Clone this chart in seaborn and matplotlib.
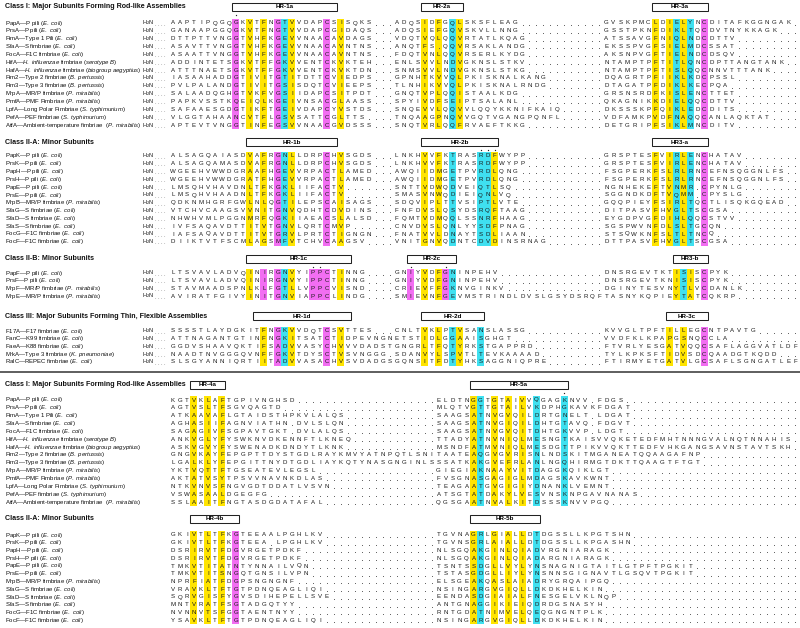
import numpy as np
import matplotlib
matplotlib.use("Agg")
import matplotlib.pyplot as plt
from matplotlib.colors import ListedColormap
from matplotlib.patches import Rectangle
import seaborn as sns

plt.rcParams['font.family'] = ['Liberation Sans', 'DejaVu Sans']
plt.rcParams['mathtext.fontset'] = 'custom'
plt.rcParams['mathtext.rm'] = 'Liberation Sans'
plt.rcParams['mathtext.it'] = 'Liberation Sans:italic'
plt.rcParams['mathtext.bf'] = 'Liberation Sans:bold'

# ---------------- data ----------------
class1_names = [
    "PapA—P pili (_E. coli_)", "PrsA—P pili (_E. coli_)", "FimA—Type 1 Pili (_E. coli_)",
    "SfaA—S fimbriae (_E. coli_)", "FocA—F1C fimbriae (_E. coli_)",
    "HifA—_H. influenzae_ fimbriae (_serotype B_)",
    "HafA—_H. influenzae_ fimbriae (_biogroup aegyptius_)",
    "Fim2—Type 2 fimbriae (_B. pertussis_)", "Fim3—Type 3 fimbriae (_B. pertussis_)",
    "MrpA—MR/P fimbriae (_P. mirabilis_)", "PmfA—PMF Fimbriae (_P. mirabilis_)",
    "LpfA—Long Polar Fimbriae (_S. typhimurium_)", "PefA—PEF fimbriae (_S. typhimurium_)",
    "AtfA—Ambient-temperature fimbriae  (_P. mirabilis_)",
]
class2a_names = [
    "PapK—P pili (_E. coli_)", "PrsK—P pili (_E. coli_)", "PapH—P pili (_E. coli_)",
    "PrsH—P pili (_E. coli_)", "PapE—P pili (_E. coli_)", "PrsE—P pili (_E. coli_)",
    "MrpB—MR/P fimbriae (_P. mirabilis_)", "SfaG—S fimbriae (_E. coli_)",
    "SfaD—S fimbriae (_E. coli_)", "SfaS—S fimbriae (_E. coli_)",
    "FocG—F1C fimbriae (_E. coli_)", "FocF—F1C fimbriae (_E. coli_)",
]
class2b_names = [
    "PapF—P pili (_E. coli_)", "PrsF—P pili (_E. coli_)",
    "MrpF—MR/P fimbriae (_P. mirabilis_)", "MrpE—MR/P fimbriae (_P. mirabilis_)",
]
class3_names = [
    "F17A—F17 fimbriae (_E. coli_)", "FanC—K99 fimbriae (_E. coli_)",
    "FaeA—K88 fimbriae (_E. coli_)", "MrkA—Type 3 fimbriae (_K. pneumoniae_)",
    "RalC—REPEC fimbriae (_E. coli_)",
]

# Class I, HR-1a / HR-2a / HR-3a
c1_hr1 = ["AAPTIPQGQGKVTFNGTVVDAPCSISQKS", "GANAAPGGQGKVTFNGTVVDAPCGIDAQS",
          "DTTPTTVNGGTVHFKGEVVNAACAVDAGS", "ASAVTTVNGGTVHFKGEVVNAACAVNTNS",
          "ASAATTVNGGTVHFKGEVVNAACAVNTNS", "ADDINTETSGKVTFFGKVVENTCKVKTEH",
          "ATTTNAETSGKVTFFGKVVENTCKVKTDN", "IASAAHADDGTIVITGTITDTTCVIEDPS",
          "PVLPALANDGTIVITGSISDQTCVIEEPS", "SALAADQGHGTVKFVGSIIDAPCSITPDT",
          "PAPKVSSTKQEIQLKGEIVNSACGLAASS", "SAFAAESGDGTIKFTGEIVDAPCYVSTDS",
          "VLGGTAHAANCVTFLGSVSATTCGLTTS", "APTEVTVNGGTINFEGSVVNAACGVDSSS"]
c1_hr2 = ["ADQSIDFGQLSKSFLEAG", "ADQSIEFGQVSKVLLNNG", "VDQTVQLQQVRTATLKQAG",
          "ANQTFS.QQVRSAKLANDG", "FDQTVNLQQVRSERLKYDG", "ENLSVVLNDVGKNSLSTKV",
          "SNMSVVLNDVGKNSLSTKG", "GPNHTKVVQLPKISKNALKANG", "TLNHIKVVQLPKISKNALRNDG",
          "GNQTVPLQQISTAALKDG", "SPYIVDFSEIPTSALANL", "SNQEVVLQQVVLQQYKKNIFKAIQ",
          "TNQAAGPNQVVGQTVGANGPQNFL", "SNQTVRLQQFRVAEFTKKG"]
c1_hr3 = ["GVSKPMCLDIELYNCDITAFKGGNGAK", "GSSTPKNFDIKLTQCDVTNYKKAGK",
          "ATSSAVGFNIQLNDCDTTV", "EKSSPVGFSIELMDCSSAT", "AKSNPVGFTIELNDCDSQV",
          "NTAMPTPFTITLQNCDPTTANGTANK", "NTAMPTPFTISLQQCNNVTTTANK",
          "DQAGRTPFIIKLKDCPSSL", "DTAGATPFDIKLKECPQA", "GRSNSRDFKISLENCTTET",
          "QKAGNIKKDIELQQCDTTV", "DKSSSKPFQIKLEDCDITS",
          "VDFAMKPVDFNAQQCANLAQKTAT", "DETGRIPFSIKLMNCDITV"]

# Class II-A, HR-1b / HR-2b / HR3-a
c2a_hr1 = ["ALSAGQAIASDVAFRGNLLDRPCHVSGDS", "ALSAGQAMASDVAFRGNLLDRPCHVSGDS",
           "WGEEHVWWDGRAAFHGEVVRPACTLAMED", "WGEEHVWWDGRATFHGEVVRPACTLAMED",
           "LMSQHVHAVDNLTFKGKLIIFACTV", "LMSQHVHAADNLTFKGKLIIFACTV",
           "QDKNMHGRFGWLNLQGTILEPSCAISAGS", "VTCHVCAAGSVVNITGNVQDHTCDVDINS",
           "NHWHVMLPGGNMRFQGKIIAEACSLALSD", "IVFSAQAVDTTITVTGNVLQRTCMVP",
           "IAFSAQAVDTTITVTGRVLPRTCTIGNGN", "DIIKTVTFSCMLAGSMFVTCHVCAAGSV"]
c2a_hr2 = ["LNKHVVFKTRASRDFWYPP", "LNKHVVFKTRASRDFWYPP", "AWQIIDMGETPVRDLQNG",
           "AWQIIDMGETPVRDLQNG", "SNTTVDWQDVEIQTLSQ", "SMASVNWQDIEIQNLVQ",
           "SDQVIPLTTVSIPTLVTE", "FNFDVSLQSYDSRQFTAAG", "FQMTVDMQQLSSNRFHAAG",
           "CNVDVSLQNLYYSDFPNAG", "FNATVVLDNAYTSDLIAAN", "VNITGNVQDNTCDVDINSRNAG"]
c2a_hr3 = ["GRSPTESFVIRLENCHATAV", "GRSPTESFVIRLENCHATAV",
           "FSGPERKFSLRLRNCEFNSQGGNLFS", "FSGPERKFSLRLRNCEFNSQGGNLFS",
           "NGNHEKEFTVNMR.CPYNLG", "SGGNDKDFTVQMM.CPYSLG",
           "GQQPIEYFSIRLTQCTLISQKGQEAD", "DITPASVFHVGLTSCGSA",
           "EYGDPVGFDIHLQQCSTVV", "SGSPWVNFDLSLTGCQN", "STSQWKNFSLTLTNCQ",
           "DTTPASVFHVGLTSCGSA"]

# Class II-B, HR-1c / HR-2c / HR3-b
c2b_hr1 = ["LTSVAVLADVQINIRGNVYIPPCTINNG", "LTSVAVLADVQINIRGNVYIPPCTINNG",
           "STAVMAADSPNLKLFGTLLVPPCVISND", "AVIRATFGIVYINITGNVIAPPCLINDG"]
c2b_hr2 = ["GNIYVDFGNINPEHV", "GNIYVDFGNINPEHV", "CRIEVFFGKNVGINKV",
           "SMIEVNFGEVMSTRINDLDVSLGSYDSRQFTASNYKQPIEYTATCQKRP"]
c2b_hr3 = ["DNSRGEVTKTISISCPYK", "DNSRGEVTKNISISCPYK", "DGINYTESVNYTLVCDANLK", ""]

# Class III, HR-1d / HR-2d / HR-3c
c3_hr1 = ["SSSSTLAYDGKITFNGKVVDQTCSVTTES", "ATTNAGANTGTINFNGKITSATCTIDPEVNGN",
          "GGDVSHAAVQKTIFSADVVASYCHVVVDADST", "NAADTNVGGGQVNFFGKVTDYSCTVSVNGGG",
          "SLSGYANNIQRTIITADVVASACHVSVDADGS"]
c3_hr2 = ["CNLTVKLPTVSANSLASSG", "ETSTIDLGGAAISGHGT", "GNGRLTFQTYRKSTGAPPRD",
          "SDANVYLSPVTLTEVKAAAAD", "GQNSITFDTYHKSAGGNIQPRE"]
c3_hr3 = ["KVVGLTPFTILLEGCNTPAVTG", "VVDFKLKPAPGSNQCCLA",
          "FTVRLYESGATVQQCSAFLAGGVATLDF", "TYLKPKSFTIDVSDCQAADGTKQDD",
          "FTIRMYETGATVLGCSAFLSGNGATLEF"]

# Class I, HR-4a / HR-5a
c1_hr4 = ["KGTVKLAFTGPIVNGHSD", "AGTVSLTFSGVQAGTD", "ATKAAVAFLGTAIDSTHPKVLALQS",
          "AGHASIIFAGNVIATHN.DVLSLQN", "SAGAGIVFSGPAVTGKT.DVLALQS",
          "ANKVGLYFYSWKNVDKENNFTLKNEQ", "ASKVGVYFYSWENADKDNDYTLKNK",
          "GNGVKAYFEPGPTTDYSTGDLRAYKMVYATNPQTLSNI",
          "LGALKLYFEPGITTNYDTGDLIAYKQTYNASGNGINLS",
          "YKTVQTTFTGSEATEVLEGSL", "AKTATVSYTPSVVNAVNKDLAS",
          "NTKVNVSFNGVGDTDDATLVSVN", "VSWASAALDGEGFG", "SSLAAITFNGTASDGDATAFAL"]
c1_hr5 = ["ELDTNGGTGTAIVVQGAGKNVV.FDGS", "MLQTVGTTGTAILVKDPHGKAVKFDGAT",
          "SAAGSATNVGVQILDRTGNELT.LDGAT", "SAAGSATNVGIQILDHTGTAVQ.FDGVT",
          "SAAGSATNVGVQITDHTGKVVP.LDGT",
          "TTADYATNVNIQLMESNGTKAISVVQKETEDFMHTNNNGVALNQTNNAHIS",
          "MSNDFATMVNIQLMESDGTTPIKVVQKTTEDFVHKGANGSAVNSTAVTSKH",
          "TAATEAQGVGVRISNLNDSKITMGANEATQQAAGAFNP",
          "SSATKAKGVEFRLANLNGQHIRMGTDKTTQAAGTFTGT",
          "GIEGIAKNAAYVITDAGGKQIKLGT", "FVSGNASGAGIGLMDAGSKAVKWNT",
          "TEAGAATGVGIGIYDNANKLVEMNT", "ATSGTATDAKYLVESVNSKNPGAVNANAS",
          "QGSGAATNVALKITDSSSKNVVPGQ"]

# Class II-A, HR-4b / HR-5b
c2a_hr4 = ["GKIVTLTFKGTEEAALPGHLKV", "GKIVTLTFKGTEEA.LPGHLKV", "DSRIRVTFDGVRGETPDKF",
           "DSRIRVTFDGVRGETPDKF", "TMKVTITATNTYNNAILVQN", "TMKVTITSNGQTGNSILVPN",
           "NPRFIATFDGPSNGNGNF", "VRAVKLTFTGTPDNQEAGLIQI", "SQRVGISFYGVSDIHEPELLSVE",
           "MNTVRATFSGTADGQTYY", "NVNNVTSFGGTAENTNYY", "YSAVKLTFTGTPDNQEAGLIQI"]
c2a_hr5 = ["TGVNAGRLGIALLDTDGSSLLKPGTSHN", "TGVNSGRLAIALLDTDGSSLLKPGASHN",
           "NLSGQAKGINLQIADVRGNIARAGK", "NLSGQAKGINLQIADARGNIARAGK",
           "TSNTSSDGLLVYLYNSNAGNIGTAITLGTPFTPGKIT",
           "TSTASGDGLLIYLYNSNNSGIGNAVTLGSQVTPGKIT",
           "ELSGEAKQASLAIADRYGRQAIPGQ", "NSINGARGVGIQLLDKDKHELKIN",
           "EENDASDGIAIALFNESGELVKLNQP", "ANTGNAGGIKIEIQDRDGSNASYH",
           "RNTGDATNIMVELQEQGNGNTPLK", "NSINGARGVGIQLLDKDKHELKIN"]

# highlighted columns (Y = yellow, C = cyan, M = magenta)
c1_top_hl = "9M 11Y 13Y 15M 16C 17Y 22M 24Y 36Y 38Y 40C 41Y 69Y 71Y 72C 73Y 74C 76M"
c2a_top_hl = "11Y 13Y 15M 16C 17Y 22M 24Y 36Y 38Y 40C 44C 45C 46Y 69Y 71Y 72C 73Y 74C 76M"
c2b_hl = "11Y 13M 15M 16C 17Y 20M 21M 22M 24Y 34M 36Y 38Y 39M 40C 72Y 73C 74Y 76M"
c3_hl = "13Y 15M 16C 17Y 22M 24Y 36Y 38Y 40C 41Y 44C 71Y 73Y 76M"
c1_low_hl = "3Y 5Y 7Y 43Y 44C 46Y 48Y 50Y 52C 56C"
c2a_low_hl = "3Y 5Y 7Y 9M 43Y 44C 46Y 48Y 50Y 52C"

blocks = [
    dict(title="Class I: Major Subunits Forming Rod-like Assemblies", names=class1_names,
         segs=[c1_hr1, c1_hr2, c1_hr3], starts=[0, 32, 62], hl=c1_top_hl,
         boxes=[("HR-1a", 9, 23), ("HR-2a", 36, 41), ("HR-3a", 69, 76)], stars=[9], h2n=True),
    dict(title="Class II-A: Minor Subunits", names=class2a_names,
         segs=[c2a_hr1, c2a_hr2, c2a_hr3], starts=[0, 32, 62], hl=c2a_top_hl,
         boxes=[("HR-1b", 11, 23), ("HR-2b", 36, 46), ("HR3-a", 69, 76)], stars=[44, 45, 46], h2n=True),
    dict(title="Class II-B: Minor Subunits", names=class2b_names,
         segs=[c2b_hr1, c2b_hr2, c2b_hr3], starts=[0, 32, 62], hl=c2b_hl,
         boxes=[("HR-1c", 11, 25), ("HR-2c", 34, 40), ("HR3-b", 72, 76)], stars=[20, 21, 34, 39], h2n=True),
    dict(title="Class III: Major Subunits Forming Thin, Flexible Assemblies", names=class3_names,
         segs=[c3_hr1, c3_hr2, c3_hr3], starts=[0, 32, 62], hl=c3_hl,
         boxes=[("HR-1d", 12, 25), ("HR-2d", 36, 44), ("HR-3c", 71, 76)], stars=[], h2n=True),
    dict(title="Class I: Major Subunits Forming Rod-like Assemblies", names=class1_names,
         segs=[c1_hr4, c1_hr5], starts=[0, 38], hl=c1_low_hl,
         boxes=[("HR-4a", 3, 7), ("HR-5a", 43, 56)], stars=[56], h2n=False),
    dict(title="Class II-A: Minor Subunits", names=class2a_names,
         segs=[c2a_hr4, c2a_hr5], starts=[0, 38], hl=c2a_low_hl,
         boxes=[("HR-4b", 3, 9), ("HR-5b", 43, 52)], stars=[], h2n=False),
]

# ---------------- layout (pixels) ----------------
W, H = 800, 628
X0, DX, NCOL = 173.0, 6.99, 90
# (title y, first row y, row pitch) per block
BLOCK_Y = [(7, 23, 7.85), (142, 156, 7.8), (259, 273, 7.67),
           (316, 331, 7.75), (385, 400, 7.85), (519, 535, 7.75)]
SEP_Y = 372
CODE = {"Y": 1, "C": 2, "M": 3}
cmap = ListedColormap(["white", "#ffe400", "#3fe0f0", "#f26ef2"])


def mt(s):
    out = []
    for i, part in enumerate(s.split("_")):
        if i % 2:
            out.append(r"$\mathit{" + part.replace(" ", r"\ ") + "}$")
        else:
            out.append(part)
    return "".join(out)


def build_rows(segs, starts):
    rows = []
    for parts in zip(*segs):
        r = ["."] * NCOL
        for seg, st in zip(parts, starts):
            for i, ch in enumerate(seg):
                if st + i < NCOL:
                    r[st + i] = ch
        rows.append(r)
    return np.array(rows)


fig = plt.figure(figsize=(W / 100, H / 100), dpi=100)
bg = fig.add_axes([0, 0, 1, 1])
bg.set_xlim(0, W)
bg.set_ylim(H, 0)
bg.axis("off")

for blk, (ty, fy, py) in zip(blocks, BLOCK_Y):
    grid = build_rows(blk["segs"], blk["starts"])
    n = grid.shape[0]
    codes = np.zeros(grid.shape, dtype=int)
    for tok in blk["hl"].split():
        codes[:, int(tok[:-1])] = CODE[tok[-1]]
    annot = np.where(grid == ".", "", grid)

    top = fy - py / 2
    ax = fig.add_axes([(X0 - DX / 2) / W, 1 - (top + n * py) / H, NCOL * DX / W, n * py / H])
    sns.heatmap(codes, ax=ax, cmap=cmap, vmin=-0.5, vmax=3.5, cbar=False,
                annot=annot, fmt="", annot_kws={"fontsize": 4.4, "color": "#1a1a1a"},
                xticklabels=False, yticklabels=False)
    gy, gx = np.nonzero(grid == ".")
    ax.scatter(gx + 0.5, gy + 0.74, s=0.45, color="#555555", linewidths=0)
    ax.tick_params(length=0)

    # title, names, N-terminus marks
    bg.text(5, ty, blk["title"], fontsize=5.1, fontweight="bold", va="center", ha="left", color="#111")
    for i, name in enumerate(blk["names"]):
        y = fy + i * py
        bg.text(5, y, mt(name), fontsize=4.3, va="center", ha="left", color="#111")
        if blk["h2n"]:
            bg.text(148, y, r"H$_2$N", fontsize=4.0, va="center", ha="center", color="#111")
            bg.text(155, y + 1.2, ". . . .", fontsize=4.0, va="center", ha="left", color="#555")

    # HR boxes and conserved-position marks
    for label, c0, c1 in blk["boxes"]:
        xl = X0 + (c0 - 0.5) * DX
        wd = (c1 - c0 + 1) * DX
        bg.add_patch(Rectangle((xl, ty - 4.2), wd, 8.4, fill=False, lw=0.75, ec="#222"))
        bg.text(xl + wd / 2, ty, label, fontsize=4.5, fontweight="bold", ha="center", va="center")
    for c in blk["stars"]:
        bg.scatter(X0 + c * DX, ty + 8.3, s=0.9, color="#222", linewidths=0)

bg.plot([0, W], [SEP_Y, SEP_Y], color="#333333", lw=1.1)

fig.savefig("out.png", dpi=100)
